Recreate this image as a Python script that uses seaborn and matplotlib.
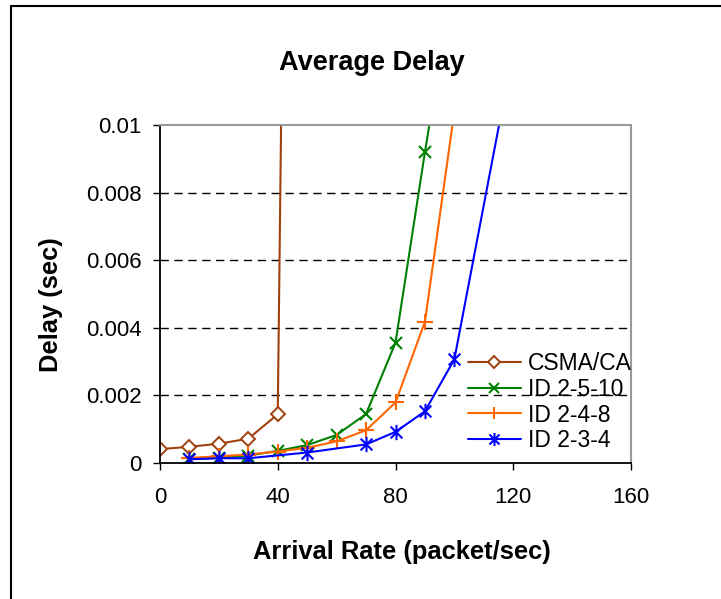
import numpy as np
import pandas as pd
import matplotlib
matplotlib.use("Agg")
import matplotlib.pyplot as plt
from matplotlib.path import Path
from matplotlib.lines import Line2D
import seaborn as sns

# ---- data ----
csma_x = [0, 10, 20, 30, 40, 50]
csma_y = [0.00041, 0.00048, 0.00057, 0.00072, 0.00144, 0.077]

id2510_x = [10, 20, 30, 40, 50, 60, 70, 80, 90, 100]
id2510_y = [0.00012, 0.00015, 0.00022, 0.00036, 0.00053, 0.00083, 0.00145, 0.00356, 0.0092, 0.0145]

id248_x = [10, 20, 30, 40, 50, 60, 70, 80, 90, 100]
id248_y = [0.00015, 0.0002, 0.00025, 0.00034, 0.00045, 0.00064, 0.00097, 0.00179, 0.00418, 0.0104]

id234_x = [10, 20, 30, 50, 70, 80, 90, 100, 120]
id234_y = [0.00011, 0.00014, 0.00014, 0.00031, 0.00055, 0.00092, 0.00153, 0.00307, 0.0122]

series_names = ["CSMA/CA", "ID 2-5-10", "ID 2-4-8", "ID 2-3-4"]
colors = ["#A0410D", "#008000", "#FF6600", "#0000FF"]

x_ticks = [0, 40, 80, 120, 160]
y_ticks = [0, 0.002, 0.004, 0.006, 0.008, 0.01]
y_ticklabels = ["0", "0.002", "0.004", "0.006", "0.008", "0.01"]

title = "Average Delay"
xlabel = "Arrival Rate (packet/sec)"
ylabel = "Delay (sec)"

# ---- style ----
sns.set_style("white")
plt.rcParams['font.family'] = ['Liberation Sans', 'DejaVu Sans']
plt.rcParams['text.color'] = 'black'
plt.rcParams['xtick.color'] = 'black'
plt.rcParams['ytick.color'] = 'black'

W, H = 721, 599
fig = plt.figure(figsize=(W / 100, H / 100), dpi=100)
L, R, T, B = 160, 631, 125, 463
ax = fig.add_axes([L / W, 1 - B / H, (R - L) / W, (B - T) / H])

star = Path([(-1, -1), (1, 1), (-1, 1), (1, -1), (0, -1.3), (0, 1.3)],
            [Path.MOVETO, Path.LINETO, Path.MOVETO, Path.LINETO, Path.MOVETO, Path.LINETO])

data = [
    (csma_x, csma_y, dict(marker="D", markersize=7, markerfacecolor="white", markeredgewidth=1.4)),
    (id2510_x, id2510_y, dict(marker="x", markersize=9, markeredgewidth=1.5)),
    (id248_x, id248_y, dict(marker="+", markersize=11, markeredgewidth=1.5)),
    (id234_x, id234_y, dict(marker=star, markersize=11, markeredgewidth=1.5)),
]

for (xs, ys, mk), name, col in zip(data, series_names, colors):
    df = pd.DataFrame({"x": xs, "y": ys})
    sns.lineplot(data=df, x="x", y="y", ax=ax, color=col, linewidth=1.5,
                 markeredgecolor=col, label=name, legend=False, **mk)

ax.set_xlim(0, 160)
ax.set_ylim(0, 0.01)
ax.set_xticks(x_ticks)
ax.set_xticklabels([str(v) for v in x_ticks], fontsize=16, color="black")
ax.set_yticks(y_ticks)
ax.set_yticklabels(y_ticklabels, fontsize=16, color="black")
ax.tick_params(axis="both", direction="out", length=5, width=1, color="black",
               left=True, bottom=True)
ax.tick_params(axis="x", pad=12)
ax.tick_params(axis="y", pad=8)
ax.set_xlabel("")
ax.set_ylabel("")

for yv in y_ticks[1:-1]:
    ax.axhline(yv, color="black", linestyle=(0, (6, 4)), linewidth=1, zorder=0)

ax.spines["left"].set_color("black")
ax.spines["bottom"].set_color("black")
ax.spines["left"].set_linewidth(1.3)
ax.spines["bottom"].set_linewidth(1.3)
ax.spines["top"].set_color("#9a9a9a")
ax.spines["right"].set_color("#9a9a9a")
ax.spines["top"].set_linewidth(1.5)
ax.spines["right"].set_linewidth(1.5)

handles = []
for (xs, ys, mk), name, col in zip(data, series_names, colors):
    kw = dict(mk)
    kw["markersize"] = kw["markersize"] * 0.85
    handles.append(Line2D([], [], color=col, linewidth=1.5, markeredgecolor=col, **kw))
leg = fig.legend(handles, series_names, loc="upper left",
                 bbox_to_anchor=(468 / W, 1 - 352 / H), frameon=False,
                 fontsize=16.5, handlelength=2.3, handletextpad=0.3,
                 labelspacing=0.12, borderaxespad=0, borderpad=0)
for t in leg.get_texts():
    t.set_color("black")

fig.text(372 / W, 1 - 63 / H, title, ha="center", va="center",
         fontsize=19.5, fontweight="bold", color="black")
fig.text(402 / W, 1 - 552 / H, xlabel, ha="center", va="center",
         fontsize=18.4, fontweight="bold", color="black")
fig.text(51 / W, 1 - 305 / H, ylabel, ha="center", va="center",
         fontsize=18.4, fontweight="bold", rotation=90, color="black")

# outer frame (left and top edges visible)
fig.add_artist(Line2D([11 / W, 11 / W], [0, 1 - 6 / H], transform=fig.transFigure,
                      color="black", linewidth=1.5))
fig.add_artist(Line2D([11 / W, 1], [1 - 6 / H, 1 - 6 / H], transform=fig.transFigure,
                      color="black", linewidth=1.5))

fig.savefig("out.png", dpi=100)
